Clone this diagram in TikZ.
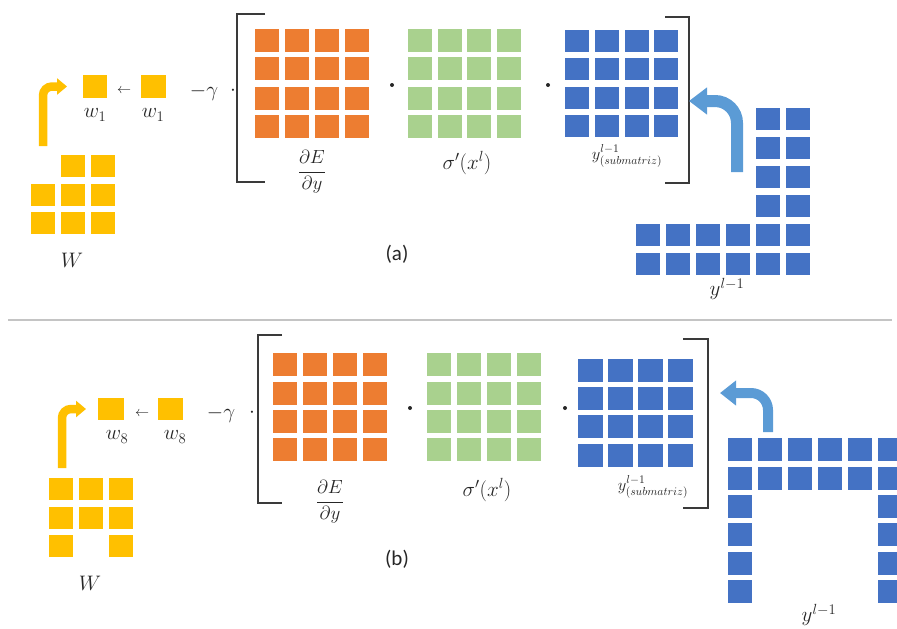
\RequirePackage{fix-cm}
\documentclass[tikz,border=0pt]{standalone}
\usepackage{amsmath}
\usepackage{fontspec}
\setmainfont{Carlito}
\usetikzlibrary{arrows.meta}
\definecolor{wy}{HTML}{FFC000}
\definecolor{orc}{HTML}{ED7D31}
\definecolor{grc}{HTML}{A9D18E}
\definecolor{blc}{HTML}{4472C4}
\definecolor{arb}{HTML}{5B9BD5}
\definecolor{brk}{HTML}{3A3A3A}
\definecolor{sep}{HTML}{C4C4C4}
\definecolor{txt}{HTML}{262626}
\begin{document}
\begin{tikzpicture}[x=1pt,y=-1pt,
  cell/.style={inner sep=0pt, outer sep=0pt, anchor=north west, minimum width=24pt, minimum height=23pt},
  ycell/.style={cell, fill=wy},
  ocell/.style={cell, fill=orc},
  gcell/.style={cell, fill=grc},
  bcell/.style={cell, fill=blc},
  lbl/.style={inner sep=0pt, text=txt, font=\fontsize{21}{25}\selectfont},
  slbl/.style={inner sep=0pt, text=txt, font=\fontsize{16.5}{20}\selectfont},
  caplbl/.style={inner sep=0pt, text=txt, font=\fontsize{21}{25}\selectfont},
  dotn/.style={circle, fill=txt, inner sep=0pt, minimum size=4pt},
  bracket/.style={draw=brk, line width=1.6pt},
  yarrow/.style={draw=wy, line width=8.5pt, rounded corners=9pt, -{Triangle[width=16pt,length=10pt]}},
  barrow/.style={draw=arb, line width=12pt, rounded corners=22pt, -{Triangle[width=26pt,length=18pt]}},
  barrowb/.style={draw=arb, line width=10pt, rounded corners=17pt, -{Triangle[width=24pt,length=16pt]}}
]
\useasboundingbox (0,0) rectangle (897,629);

% ================= (a) =================
% W matrix
\foreach \i/\x in {1/31,2/61,3/91}
  \foreach \j/\y in {1/155,2/184,3/212}{
    \ifnum\i\j=11\relax\else
      \node[ycell, minimum height=22pt] (aW\i\j) at (\x,\y) {};
    \fi}
\node[ycell] (aw1L) at (83,75) {};
\node[ycell, minimum width=25pt] (aw1R) at (141,75) {};
\node[lbl] (alw1L) at (95,115) {$w_1$};
\node[lbl] (alw1R) at (153,115) {$w_1$};
\node[inner sep=0pt, text=txt, font=\fontsize{14}{16}\selectfont] (aarr) at (124,91) {$\leftarrow$};
\node[lbl] (agam) at (204,92) {$-\gamma$};
\node[lbl] (acdot) at (233,91) {$\cdot$};
\node[lbl] (aWl) at (72,260) {$W$};
\coordinate (ayS) at (43,146);
\draw[yarrow] (ayS) |- ([xshift=-16pt]aw1L.west);

% brackets
\draw[bracket] (265,14) -- (237,14) -- (237,182) -- (265,182);
\draw[bracket] (665,17) -- (689,17) -- (689,183) -- (665,183);

% orange / green / blue sub
\foreach \i/\x in {1/255,2/285,3/315,4/345}
  \foreach \j/\y in {1/29,2/57,3/87,4/115}
    \node[ocell] (aO\i\j) at (\x,\y) {};
\foreach \i/\x in {1/408,2/438,3/467,4/497}
  \foreach \j/\y in {1/29,2/57,3/87,4/115}
    \node[gcell] (aG\i\j) at (\x,\y) {};
\foreach \i/\x in {1/565,2/595,3/625,4/654}
  \foreach \j/\y in {1/30,2/58,3/87,4/115}
    \node[bcell, minimum height=22pt] (aB\i\j) at (\x,\y) {};
\node[dotn] (ad1) at (392,85) {};
\node[dotn] (ad2) at (548,85) {};
\node[inner sep=0pt, text=txt, font=\fontsize{19}{23}\selectfont] (afr) at (312,172) {$\dfrac{\partial E}{\partial y}$};
\node[lbl] (asig) at (467,163) {$\sigma'(x^l)$};
\node[slbl] (asub) at (627,156) {$y^{l-1}_{(submatriz)}$};

% y^{l-1} block
\foreach \i/\x in {1/636,2/666,3/696,4/726,5/756,6/786}
  \foreach \j/\y in {1/108,2/137,3/166,4/195,5/224,6/253}{
    \ifnum\i>4
      \node[bcell, minimum height=22pt] (aY\i\j) at (\x,\y) {};
    \else\ifnum\j>4
      \node[bcell, minimum height=22pt] (aY\i\j) at (\x,\y) {};
    \fi\fi}
\node[lbl] (aYl) at (727,289) {$y^{l-1}$};
\coordinate (abS) at (737,172);
\coordinate (abT) at (689,101);
\draw[barrow] (abS) |- (abT);

\node[caplbl] (capa) at (397,254) {(a)};

% separator
\draw[sep, line width=1.5pt] (8,320) -- (892,320);

% ================= (b) =================
\foreach \i/\x in {1/49,2/79,3/109}
  \foreach \j/\y in {1/478,2/507,3/535}{
    \ifnum\i\j=23\relax\else
      \node[ycell, minimum height=22pt] (bW\i\j) at (\x,\y) {};
    \fi}
\node[ycell, minimum width=26pt, minimum height=22pt] (bw8L) at (98,398) {};
\node[ycell, minimum width=25pt, minimum height=22pt] (bw8R) at (158,398) {};
\node[lbl] (blw8L) at (117,437) {$w_8$};
\node[lbl] (blw8R) at (175,437) {$w_8$};
\node[inner sep=0pt, text=txt, font=\fontsize{14}{16}\selectfont] (barr) at (142,414) {$\leftarrow$};
\node[lbl] (bgam) at (221,414) {$-\gamma$};
\node[lbl] (bcdot) at (252,413) {$\cdot$};
\node[lbl] (bWl) at (90,583) {$W$};
\coordinate (byS) at (62,468);
\draw[yarrow] (byS) |- ([xshift=-12pt]bw8L.west);

\draw[bracket] (282,335) -- (258,335) -- (258,503) -- (282,503);
\draw[bracket] (683,339) -- (708,339) -- (708,508) -- (683,508);

\foreach \i/\x in {1/273,2/303,3/333,4/363}
  \foreach \j/\y in {1/353,2/382,3/410,4/438}
    \node[ocell] (bO\i\j) at (\x,\y) {};
\foreach \i/\x in {1/427,2/457,3/487,4/517}
  \foreach \j/\y in {1/353,2/382,3/410,4/438}
    \node[gcell] (bG\i\j) at (\x,\y) {};
\foreach \i/\x in {1/578,2/608,3/638,4/668}
  \foreach \j/\y in {1/359,2/387,3/415,4/444}
    \node[bcell, minimum width=25pt] (bB\i\j) at (\x,\y) {};
\node[dotn] (bd1) at (410,408) {};
\node[dotn] (bd2) at (565,408) {};
\node[inner sep=0pt, text=txt, font=\fontsize{19}{23}\selectfont] (bfr) at (330,502) {$\dfrac{\partial E}{\partial y}$};
\node[lbl] (bsig) at (487,490) {$\sigma'(x^l)$};
\node[slbl] (bsub) at (653,487) {$y^{l-1}_{(submatriz)}$};

\foreach \i/\x in {1/728,2/758,3/788,4/818,5/848,6/878}
  \foreach \j/\y in {1/438,2/467,3/495,4/523,5/552,6/580}{
    \ifnum\j<3
      \node[bcell] (bY\i\j) at (\x,\y) {};
    \else\ifnum\i=1
      \node[bcell] (bY\i\j) at (\x,\y) {};
    \else\ifnum\i=6
      \node[bcell] (bY\i\j) at (\x,\y) {};
    \fi\fi\fi}
\node[lbl] (bYl) at (819,615) {$y^{l-1}$};
\coordinate (bbS) at (768,432);
\coordinate (bbT) at (720,393);
\draw[barrowb] (bbS) |- (bbT);

\node[caplbl] (capb) at (397,559) {(b)};
\end{tikzpicture}
\end{document}
